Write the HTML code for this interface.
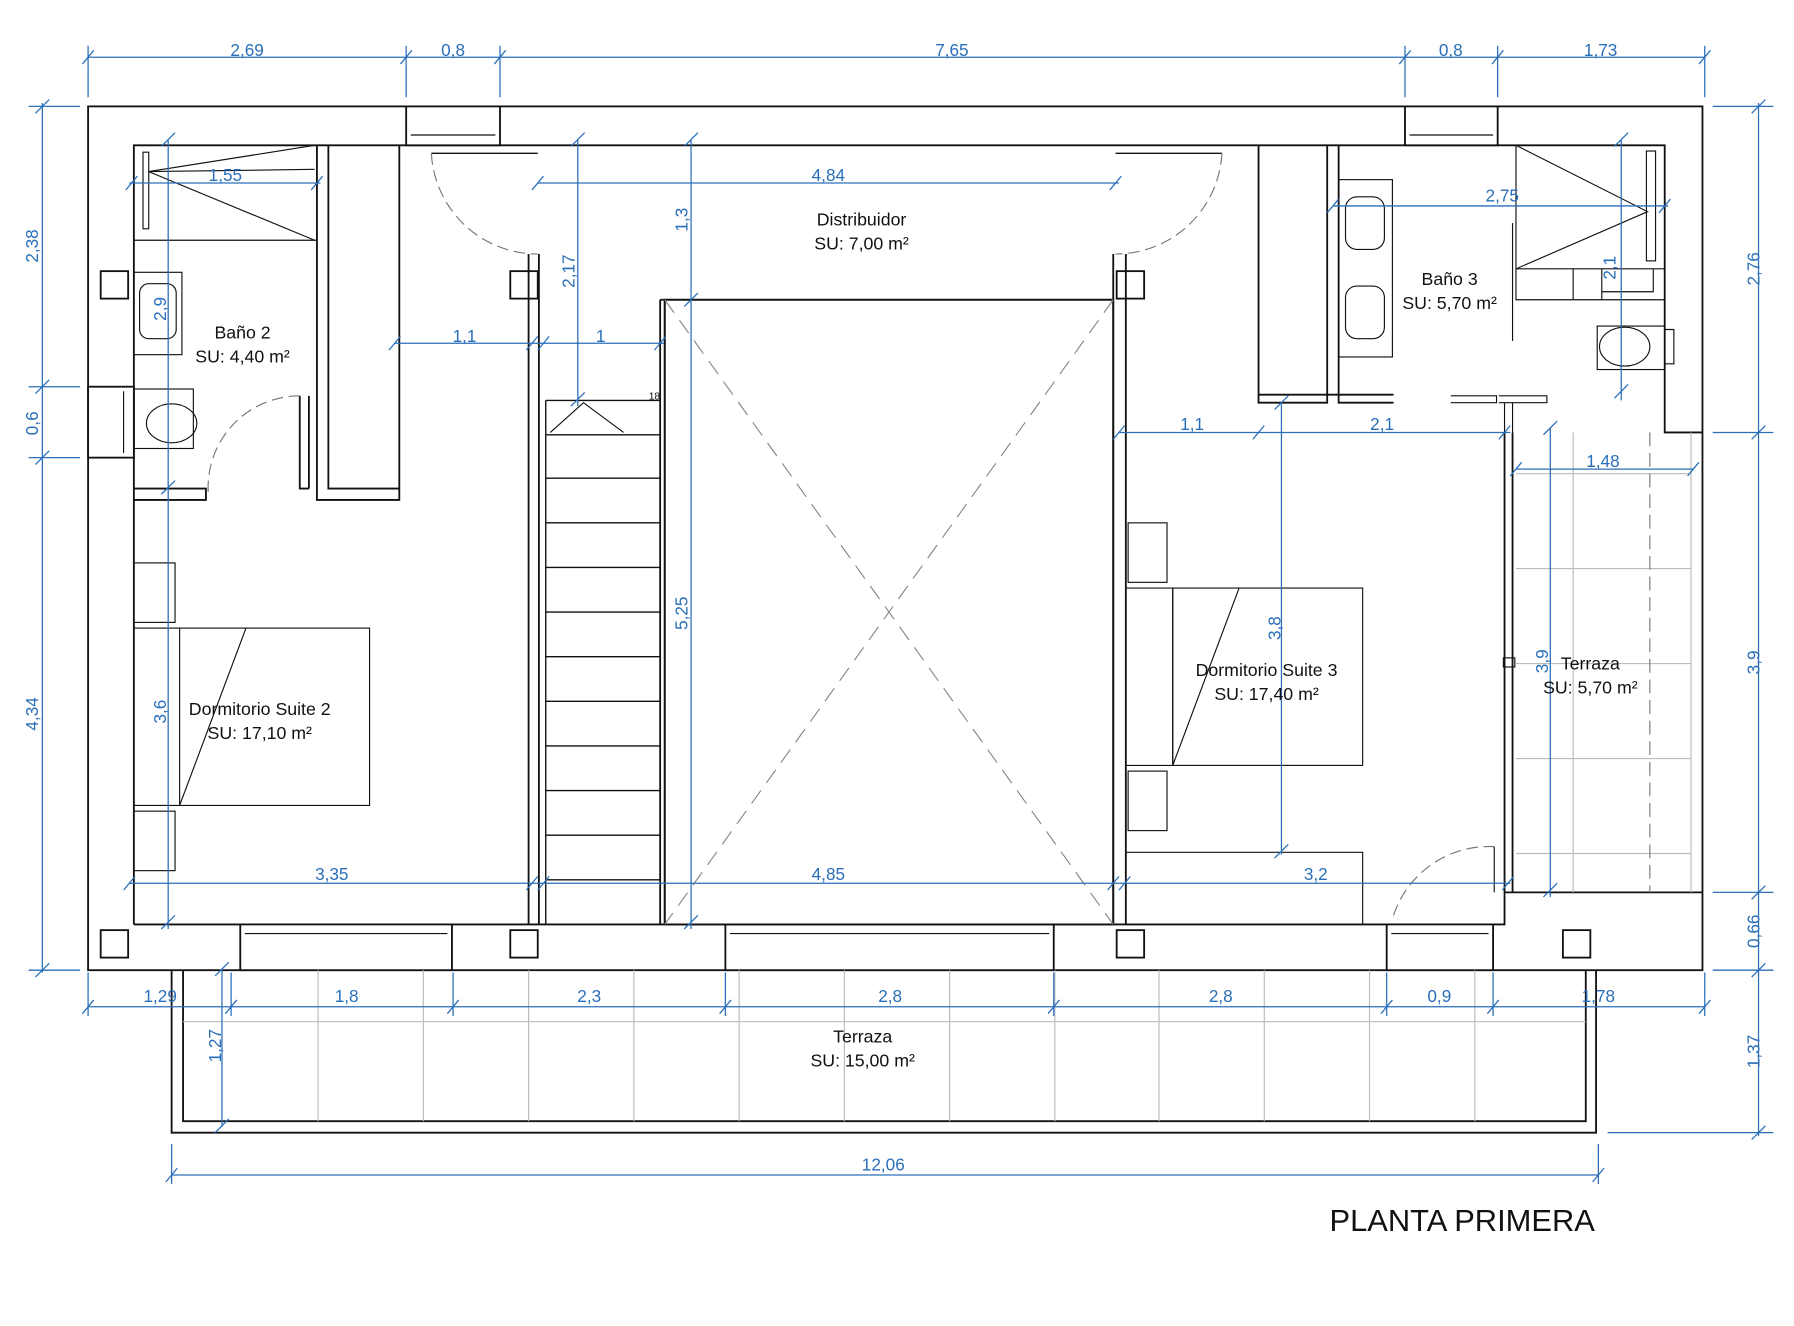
<!DOCTYPE html>
<html><head><meta charset="utf-8"><style>
html,body{margin:0;padding:0;background:#fff}
svg{display:block}
text{font-family:"Liberation Sans",sans-serif}
.d{fill:#2a6fba;font-size:15px}
.l{fill:#111;font-size:15.5px}
</style></head><body>
<svg width="1794" height="1326" viewBox="0 0 1568 1159" preserveAspectRatio="none" xmlns="http://www.w3.org/2000/svg">
<g fill="none" stroke="#111" stroke-width="1.6">
<rect x="77" y="93" width="1411" height="755"/>
<path d="M117,808 V127 H1455 V378 H1488"/>
<path d="M1488,780 H1315 V808 H117"/>
<rect x="355" y="93" width="82" height="34" fill="#fff"/>
<rect x="1228" y="93" width="81" height="34" fill="#fff"/>
<line x1="359" y1="118" x2="433" y2="118" stroke-width="1"/><line x1="1232" y1="118" x2="1305" y2="118" stroke-width="1"/>
<rect x="210" y="808" width="185" height="40" fill="#fff"/><line x1="214" y1="816" x2="391" y2="816" stroke-width="1"/>
<rect x="634" y="808" width="287" height="40" fill="#fff"/><line x1="638" y1="816" x2="917" y2="816" stroke-width="1"/>
<rect x="1212" y="808" width="93" height="40" fill="#fff"/><line x1="1216" y1="816" x2="1301" y2="816" stroke-width="1"/>
<rect x="77" y="338" width="40" height="62" fill="#fff"/><line x1="108" y1="342" x2="108" y2="396" stroke-width="1"/>
<rect x="88" y="237" width="24" height="24"/><rect x="88" y="813" width="24" height="24"/>
<rect x="446" y="813" width="24" height="24"/><rect x="976" y="813" width="24" height="24"/><rect x="1366" y="813" width="24" height="24"/>
<rect x="446" y="237" width="24" height="24"/><rect x="976" y="237" width="24" height="24"/>
<path d="M462,222 V808 M471,222 V808 M577,262 V808 M581,262 V808 M973,222 V808 M984,222 V808"/>
<rect x="581" y="262" width="392" height="546"/>
<path d="M577,262 H973"/>
<path d="M477,350 V808 M477,350 H577 M477,380 H577 M477,418 H577 M477,457 H577 M477,496 H577 M477,535 H577 M477,574 H577 M477,613 H577 M477,652 H577 M477,691 H577 M477,730 H577 M477,769 H577" stroke-width="1.2"/>
<path d="M481,378 L510,352 L545,378" stroke-width="1"/>
<path d="M581,262 L973,808 M973,262 L581,808" stroke="#888" stroke-width="1" stroke-dasharray="14 8"/>
<path d="M377,127 H470 M377,134 H470 M975,127 H1068 M975,134 H1068" stroke-width="1.2"/>
<path d="M377,134 A93,93 0 0 0 470,222" stroke="#777" stroke-width="1" stroke-dasharray="10 5"/>
<path d="M1068,134 A93,93 0 0 1 975,222" stroke="#777" stroke-width="1" stroke-dasharray="10 5"/>
<path d="M117,427 H180 V437 H117" />
<path d="M262,346 V427 H270" /><path d="M270,346 V427"/>
<path d="M277,127 V437 H349 V127 M287,127 V427 H349"/>
<path d="M182,430 A80,80 0 0 1 262,346" stroke="#777" stroke-width="1" stroke-dasharray="10 5"/>
<path d="M117,210 H205 M117,210 H277" stroke-width="1"/>
<path d="M125,133 L130,133 L130,200 L125,200 Z" stroke-width="1"/>
<path d="M130,150 L275,148 M130,150 L275,210 M130,150 L275,127" stroke-width="1"/>
<rect x="117" y="238" width="42" height="72" stroke-width="1"/><rect x="122" y="248" width="32" height="48" rx="8" stroke-width="1"/>
<rect x="117" y="340" width="52" height="52" stroke-width="1"/><ellipse cx="150" cy="370" rx="22" ry="17" stroke-width="1"/>
<path d="M1100,127 V352 H1160 V127 M1160,127 V352 M1170,127 V352 H1218 M1100,345 H1218" />
<rect x="1170" y="157" width="47" height="155" stroke-width="1"/>
<rect x="1176" y="172" width="34" height="46" rx="10" stroke-width="1"/><rect x="1176" y="250" width="34" height="46" rx="10" stroke-width="1"/>
<path d="M1325,127 V235 H1455 M1325,235 V262 H1455 M1375,235 V262 H1400 V235 M1445,235 V255 H1400" stroke-width="1"/>
<path d="M1325,127 L1440,185 L1325,235" stroke-width="1"/>
<rect x="1439" y="132" width="8" height="96" stroke-width="1"/>
<path d="M1322,195 V298" stroke-width="1"/>
<rect x="1396" y="285" width="59" height="38" stroke-width="1"/><ellipse cx="1420" cy="303" rx="22" ry="17" stroke-width="1"/>
<path d="M1455,288 H1463 V318 H1455" stroke-width="1"/>
<path d="M1268,346 H1308 V352 H1268 M1310,346 H1352 V352 H1310 M1315,352 V378 M1322,352 V378" stroke-width="1"/>
<path d="M1315,378 V780 M1322,378 V780" />
<rect x="117" y="549" width="206" height="155" stroke-width="1"/><path d="M157,549 V704 M215,549 L157,704" stroke-width="1"/>
<rect x="117" y="492" width="36" height="52" stroke-width="1"/><rect x="117" y="709" width="36" height="52" stroke-width="1"/>
<rect x="1025" y="514" width="166" height="155" stroke-width="1"/><path d="M1025,514 V669 M1083,514 L1025,669 M984,514 H1025 M984,669 H1025" stroke-width="1"/>
<rect x="986" y="457" width="34" height="52" stroke-width="1"/><rect x="986" y="674" width="34" height="52" stroke-width="1"/>
<path d="M984,745 H1191 V808" stroke-width="1"/>
<path d="M1218,800 A88,88 0 0 1 1306,740" stroke="#777" stroke-width="1" stroke-dasharray="10 5"/><path d="M1306,740 V780" stroke-width="1"/>
<g stroke="#bbb" stroke-width="1"><path d="M1325,414 H1478 M1325,497 H1478 M1325,580 H1478 M1325,663 H1478 M1325,746 H1478 M1375,378 V780 M1478,378 V780"/>
<path d="M1442,378 V780" stroke="#777" stroke-dasharray="12 6"/></g>
<rect x="1314" y="575" width="10" height="8" stroke-width="1"/>
<path d="M150,848 V990 H1395 V848 M160,848 V980 H1386 V848"/>
<g stroke="#bbb" stroke-width="1"><path d="M160,893 H1386 M278,848 V980 M370,848 V980 M462,848 V980 M554,848 V980 M646,848 V980 M738,848 V980 M830,848 V980 M922,848 V980 M1013,848 V980 M1105,848 V980 M1197,848 V980 M1289,848 V980"/></g>
</g>
<g stroke="#2a6fba" stroke-width="1.1" fill="none">
<path d="M77,50 H1490 M77,40 V85 M355,40 V85 M437,40 V85 M1228,40 V85 M1309,40 V85 M1490,40 V85"/>
<path d="M72,56 L82,44 M350,56 L360,44 M432,56 L442,44 M1223,56 L1233,44 M1304,56 L1314,44 M1485,56 L1495,44"/>
<path d="M37,90 V850 M25,93 H70 M25,338 H70 M25,400 H70 M25,848 H70 M31,99 L43,87 M31,344 L43,332 M31,406 L43,394 M31,854 L43,842"/>
<path d="M1537,90 V993 M1497,93 H1550 M1497,378 H1550 M1497,780 H1550 M1497,848 H1550 M1405,990 H1550 M1531,99 L1543,87 M1531,384 L1543,372 M1531,786 L1543,774 M1531,854 L1543,842 M1531,996 L1543,984"/>
<path d="M77,880 H1490 M77,850 V888 M202,850 V888 M396,850 V888 M634,850 V888 M921,850 V888 M1212,850 V888 M1305,850 V888 M1490,850 V888"/>
<path d="M72,886 L82,874 M197,886 L207,874 M391,886 L401,874 M629,886 L639,874 M916,886 L926,874 M1207,886 L1217,874 M1300,886 L1310,874 M1485,886 L1495,874"/>
<path d="M150,1027 H1397 M150,1000 V1035 M1397,1000 V1035 M145,1033 L155,1021 M1392,1033 L1402,1021"/>
<path d="M194,848 V985 M188,853 L200,841 M188,990 L200,978"/>
<path d="M113,160 H280 M110,166 L120,154 M272,166 L282,154"/>
<path d="M147,122 V812 M141,128 L153,116 M141,432 L153,420 M141,812 L153,800"/>
<path d="M470,160 H978 M465,166 L475,154 M970,166 L980,154"/>
<path d="M604,122 V812 M598,128 L610,116 M598,268 L610,256 M598,812 L610,800"/>
<path d="M505,122 V355 M499,128 L511,116 M499,355 L511,343"/>
<path d="M345,300 H580 M340,306 L350,294 M460,306 L470,294 M470,306 L480,294 M572,306 L582,294"/>
<path d="M113,772 H1320 M108,778 L118,766 M460,778 L470,766 M470,778 L480,766 M968,778 L978,766 M978,778 L988,766 M1313,778 L1323,766"/>
<path d="M978,378 H1320 M973,384 L983,372 M1095,384 L1105,372 M1310,384 L1320,372"/>
<path d="M1120,352 V747 M1114,358 L1126,346 M1114,750 L1126,738"/>
<path d="M1165,180 H1458 M1160,186 L1170,174 M1450,186 L1460,174"/>
<path d="M1417,122 V350 M1411,128 L1423,116 M1411,348 L1423,336"/>
<path d="M1325,410 H1480 M1320,416 L1330,404 M1475,416 L1485,404"/>
<path d="M1355,374 V784 M1349,380 L1361,368 M1349,784 L1361,772"/>
</g>
<g class="d" text-anchor="middle">
<text x="216" y="49">2,69</text><text x="396" y="49">0,8</text><text x="832" y="49">7,65</text><text x="1268" y="49">0,8</text><text x="1399" y="49">1,73</text>
<text x="140" y="876">1,29</text><text x="303" y="876">1,8</text><text x="515" y="876">2,3</text><text x="778" y="876">2,8</text><text x="1067" y="876">2,8</text><text x="1258" y="876">0,9</text><text x="1397" y="876">1,78</text>
<text x="772" y="1023">12,06</text>
<text x="197" y="158">1,55</text><text x="724" y="158">4,84</text><text x="406" y="299">1,1</text><text x="525" y="299">1</text>
<text x="290" y="769">3,35</text><text x="724" y="769">4,85</text><text x="1150" y="769">3,2</text>
<text x="1042" y="376">1,1</text><text x="1208" y="376">2,1</text><text x="1313" y="176">2,75</text><text x="1401" y="408">1,48</text>
<g transform="rotate(-90)">
<text x="-215" y="33">2,38</text><text x="-370" y="33">0,6</text><text x="-624" y="33">4,34</text>
<text x="-235" y="1538">2,76</text><text x="-579" y="1538">3,9</text><text x="-814" y="1538">0,66</text><text x="-919" y="1538">1,37</text>
<text x="-914" y="193">1,27</text><text x="-622" y="145">3,6</text><text x="-270" y="145">2,9</text>
<text x="-237" y="502">2,17</text><text x="-192" y="601">1,3</text><text x="-536" y="601">5,25</text>
<text x="-549" y="1119">3,8</text><text x="-234" y="1412">2,1</text><text x="-578" y="1353">3,9</text>
</g>
</g>
<text x="567" y="349" font-size="9" fill="#111">18</text>
<g class="l" text-anchor="middle">
<text x="212" y="296">Baño 2</text><text x="212" y="317">SU: 4,40 m²</text>
<text x="753" y="197">Distribuidor</text><text x="753" y="218">SU: 7,00 m²</text>
<text x="1267" y="249">Baño 3</text><text x="1267" y="270">SU: 5,70 m²</text>
<text x="227" y="625">Dormitorio Suite 2</text><text x="227" y="646">SU: 17,10 m²</text>
<text x="1107" y="591">Dormitorio Suite 3</text><text x="1107" y="612">SU: 17,40 m²</text>
<text x="1390" y="585">Terraza</text><text x="1390" y="606">SU: 5,70 m²</text>
<text x="754" y="911">Terraza</text><text x="754" y="932">SU: 15,00 m²</text>
</g>
<text x="1278" y="1076" text-anchor="middle" font-size="27" fill="#111">PLANTA PRIMERA</text>
</svg>
</body></html>
